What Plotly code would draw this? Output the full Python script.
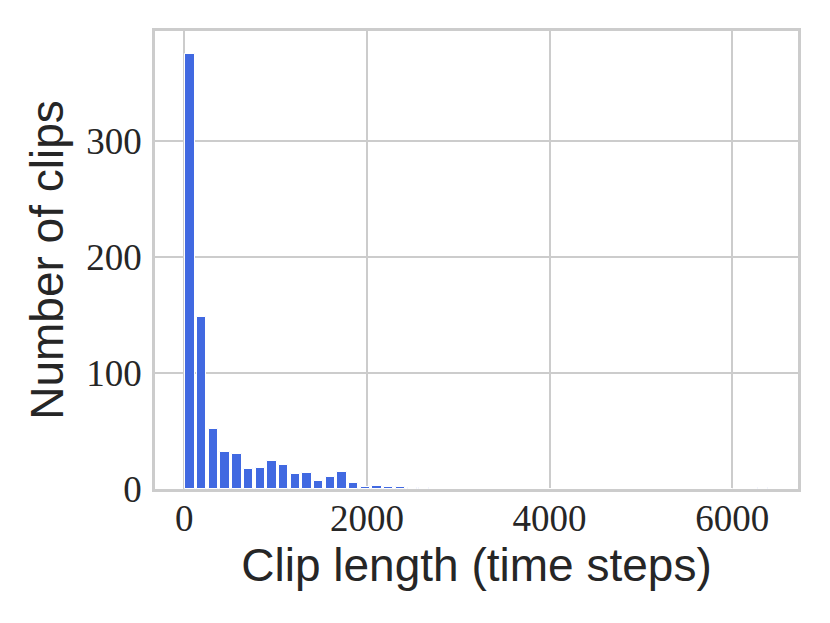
import numpy as np
import plotly.graph_objects as go

# histograma: 50 intervalos de largura 128 a partir de 0
inicio_bins = 0
largura_bin = 128
contagens = [375, 148, 52, 32, 30, 17, 18, 24, 21, 13,
             14, 7, 10, 15, 5, 2, 3, 2, 2, 1,
             1, 0, 0, 0, 0, 0, 0, 0, 0, 0,
             0, 0, 0, 0, 0, 0, 0, 0, 0, 0,
             0, 0, 0, 0, 0, 0, 0, 0, 0, 1]

xticks = [0, 2000, 4000, 6000]
yticks = [0, 100, 200, 300]

centros = inicio_bins + largura_bin * (np.arange(len(contagens)) + 0.5)

fig = go.Figure()
fig.add_trace(go.Bar(
    x=centros, y=contagens, width=largura_bin * 0.8,
    marker=dict(color='#4169E1', line=dict(color='white', width=1)),
    showlegend=False
))

cor_grade = '#cccccc'
fonte_ticks = dict(family='Liberation Serif', size=37, color='#262626')
fonte_titulo = dict(family='Liberation Sans', size=46, color='#262626')

# a página tem margem de 8px no body, por isso as margens compensam
fig.update_layout(
    width=830, height=623,
    margin=dict(l=147, r=40, t=23, b=142),
    paper_bgcolor='white', plot_bgcolor='white',
    bargap=0,
    xaxis=dict(
        range=[-320, 6720], tickvals=xticks,
        showgrid=True, gridcolor=cor_grade, gridwidth=1.6,
        showline=True, linecolor=cor_grade, linewidth=2.5, mirror=True,
        zeroline=False, ticks='', tickfont=fonte_ticks,
        ticklabelstandoff=-5,
        title=dict(text='Clip length (time steps)', font=fonte_titulo, standoff=9),
        automargin=False
    ),
    yaxis=dict(
        range=[0, 395], tickvals=yticks,
        showgrid=True, gridcolor=cor_grade, gridwidth=1.6,
        showline=True, linecolor=cor_grade, linewidth=2.5, mirror=True,
        zeroline=False, ticks='', tickfont=fonte_ticks,
        ticklabelstandoff=3,
        title=dict(text='Number of clips', font=fonte_titulo, standoff=9),
        automargin=False
    ),
)

fig.write_html("out.html")
